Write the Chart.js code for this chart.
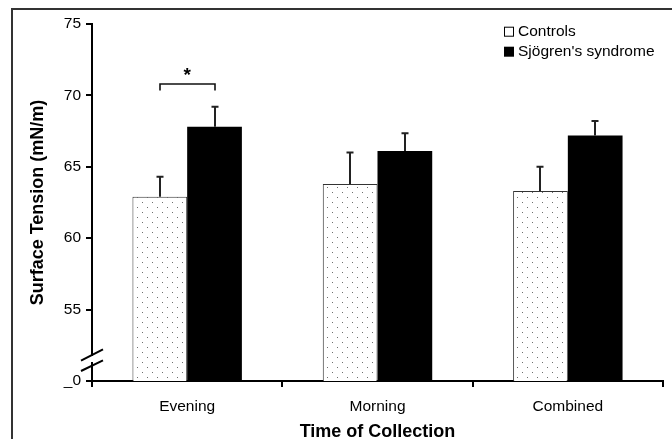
<!DOCTYPE html>
<html>
<head>
<meta charset="utf-8">
<script src="https://cdn.jsdelivr.net/npm/chart.js@4.4.1/dist/chart.umd.min.js"></script>
<style>
html,body{margin:0;padding:0;background:#fff;overflow:hidden;}
#wrap{width:672px;height:439px;position:relative;}
</style>
</head>
<body>
<div id="wrap"><canvas id="c" width="672" height="439"></canvas></div>
<script>
const categories = ['Evening', 'Morning', 'Combined'];
const seriesNames = ['Controls', "Sjögren's syndrome"];
const controls = [62.9, 63.8, 63.3];
const controlsErr = [1.4, 2.2, 1.7];
const sjogren = [67.8, 66.1, 67.2];
const sjogrenErr = [1.4, 1.25, 1.0];
const yTicks = [50, 55, 60, 65, 70, 75];
const yTickLabels = ['_0', '55', '60', '65', '70', '75'];
const yTitle = 'Surface Tension (mN/m)';
const xTitle = 'Time of Collection';
const sigBracket = {category: 0, lineValue: 70.79, tickValue: 70.34, starValue: 70.98, text: '*'};

const FONT = "'Liberation Sans', Arial, Helvetica, sans-serif";

// dotted pattern for controls
const pc = document.createElement('canvas');
pc.width = 10; pc.height = 10;
const pctx = pc.getContext('2d');
pctx.fillStyle = '#ffffff';
pctx.fillRect(0, 0, 10, 10);
pctx.fillStyle = '#6e6e6e';
pctx.fillRect(2, 2, 1, 1);
pctx.fillRect(7, 7, 1, 1);
const ctxMain = document.getElementById('c').getContext('2d');
const dotPattern = ctxMain.createPattern(pc, 'repeat');

const errs = [controlsErr, sjogrenErr];
const vals = [controls, sjogren];

const extras = {
  id: 'extras',
  afterDatasetsDraw(chart) {
    const ctx = chart.ctx;
    const y = chart.scales.y;
    ctx.save();
    // error bars (upper only)
    for (let i = 0; i < 2; i++) {
      const meta = chart.getDatasetMeta(i);
      meta.data.forEach((bar, j) => {
        const x = Math.round(bar.x);
        const y0 = bar.y;
        const y1 = y.getPixelForValue(vals[i][j] + errs[i][j]);
        ctx.strokeStyle = '#222';
        ctx.lineWidth = 2;
        ctx.beginPath();
        ctx.moveTo(x, y0);
        ctx.lineTo(x, y1);
        ctx.moveTo(x - 3.5, y1);
        ctx.lineTo(x + 3.5, y1);
        ctx.stroke();
      });
    }
    // significance bracket
    const b0 = chart.getDatasetMeta(0).data[sigBracket.category];
    const b1 = chart.getDatasetMeta(1).data[sigBracket.category];
    const ly = Math.round(y.getPixelForValue(sigBracket.lineValue));
    const ty = y.getPixelForValue(sigBracket.tickValue);
    ctx.strokeStyle = '#111';
    ctx.lineWidth = 1.6;
    ctx.beginPath();
    ctx.moveTo(Math.round(b0.x), ty);
    ctx.lineTo(Math.round(b0.x), ly);
    ctx.lineTo(Math.round(b1.x), ly);
    ctx.lineTo(Math.round(b1.x), ty);
    ctx.stroke();
    ctx.fillStyle = '#000';
    ctx.font = 'bold 19px ' + FONT;
    ctx.textAlign = 'center';
    ctx.textBaseline = 'alphabetic';
    ctx.fillText(sigBracket.text, (b0.x + b1.x) / 2, y.getPixelForValue(sigBracket.starValue));
    ctx.restore();
  },
  afterDraw(chart) {
    const ctx = chart.ctx;
    const ca = chart.chartArea;
    ctx.save();
    // axis break
    const ax = ca.left;
    ctx.fillStyle = '#fff';
    ctx.beginPath();
    ctx.moveTo(ax - 4, 362.5); ctx.lineTo(ax + 4, 358.5);
    ctx.lineTo(ax + 4, 354.5); ctx.lineTo(ax - 4, 358.5);
    ctx.closePath();
    ctx.fill();
    ctx.fillRect(ax - 3, 356, 6, 6);
    ctx.strokeStyle = '#000';
    ctx.lineWidth = 2;
    ctx.beginPath();
    ctx.moveTo(81, 360.7); ctx.lineTo(103, 349.3);
    ctx.moveTo(81, 371); ctx.lineTo(103, 360.3);
    ctx.stroke();
    // legend
    ctx.font = '15.5px ' + FONT;
    ctx.textAlign = 'left';
    ctx.textBaseline = 'middle';
    const ly = [31.7, 51.7];
    for (let i = 0; i < 2; i++) {
      if (i === 0) {
        ctx.fillStyle = '#fff';
        ctx.fillRect(504.5, ly[i] - 4.5, 9, 9);
        ctx.strokeStyle = '#000';
        ctx.lineWidth = 1;
        ctx.strokeRect(504.5, ly[i] - 4.5, 9, 9);
      } else {
        ctx.fillStyle = '#000';
        ctx.fillRect(504, ly[i] - 5, 10, 10);
      }
      ctx.fillStyle = '#000';
      ctx.fillText(chart.data.datasets[i].label, 518, ly[i] + 0.5);
    }
    // axis titles
    ctx.font = 'bold 18px ' + FONT;
    ctx.textAlign = 'center';
    ctx.textBaseline = 'alphabetic';
    ctx.fillText(xTitle, (ca.left + ca.right) / 2, 437);
    ctx.translate(42.5, (ca.top + ca.bottom) / 2);
    ctx.rotate(-Math.PI / 2);
    ctx.fillText(yTitle, 0, 0);
    ctx.restore();
    // outer frame
    ctx.save();
    ctx.strokeStyle = '#333';
    ctx.lineWidth = 2;
    ctx.strokeRect(12, 9, 700, 500);
    ctx.restore();
  }
};

new Chart(ctxMain, {
  type: 'bar',
  data: {
    labels: categories,
    datasets: [
      {label: seriesNames[0], data: controls, backgroundColor: dotPattern, borderColor: '#333', borderWidth: 1, borderSkipped: 'start'},
      {label: seriesNames[1], data: sjogren, backgroundColor: '#000', borderColor: '#000', borderWidth: 0}
    ]
  },
  options: {
    responsive: false,
    animation: false,
    devicePixelRatio: 1,
    layout: {padding: {top: 24, right: 9, left: 0, bottom: 0}},
    datasets: {bar: {categoryPercentage: 0.575, barPercentage: 1.0}},
    plugins: {legend: {display: false}, tooltip: {enabled: false}},
    scales: {
      x: {
        grid: {display: true, drawOnChartArea: false, drawTicks: true, tickLength: 6, color: '#000', lineWidth: 2, offset: true},
        border: {display: true, color: '#000', width: 2},
        ticks: {color: '#000', font: {family: FONT, size: 15.5}, padding: 10},
        afterFit(s) { s.height = 58; }
      },
      y: {
        min: 50, max: 75,
        afterBuildTicks(s) { s.ticks = yTicks.map(v => ({value: v})); },
        grid: {display: true, drawOnChartArea: false, drawTicks: true, tickLength: 6, color: '#000', lineWidth: 2},
        border: {display: true, color: '#000', width: 2},
        ticks: {
          color: '#000', font: {family: FONT, size: 15.5}, padding: 5,
          callback(v) { const k = yTicks.indexOf(v); return k >= 0 ? yTickLabels[k] : ''; }
        },
        afterFit(s) { s.width = 92; }
      }
    }
  },
  plugins: [extras]
});
</script>
</body>
</html>
